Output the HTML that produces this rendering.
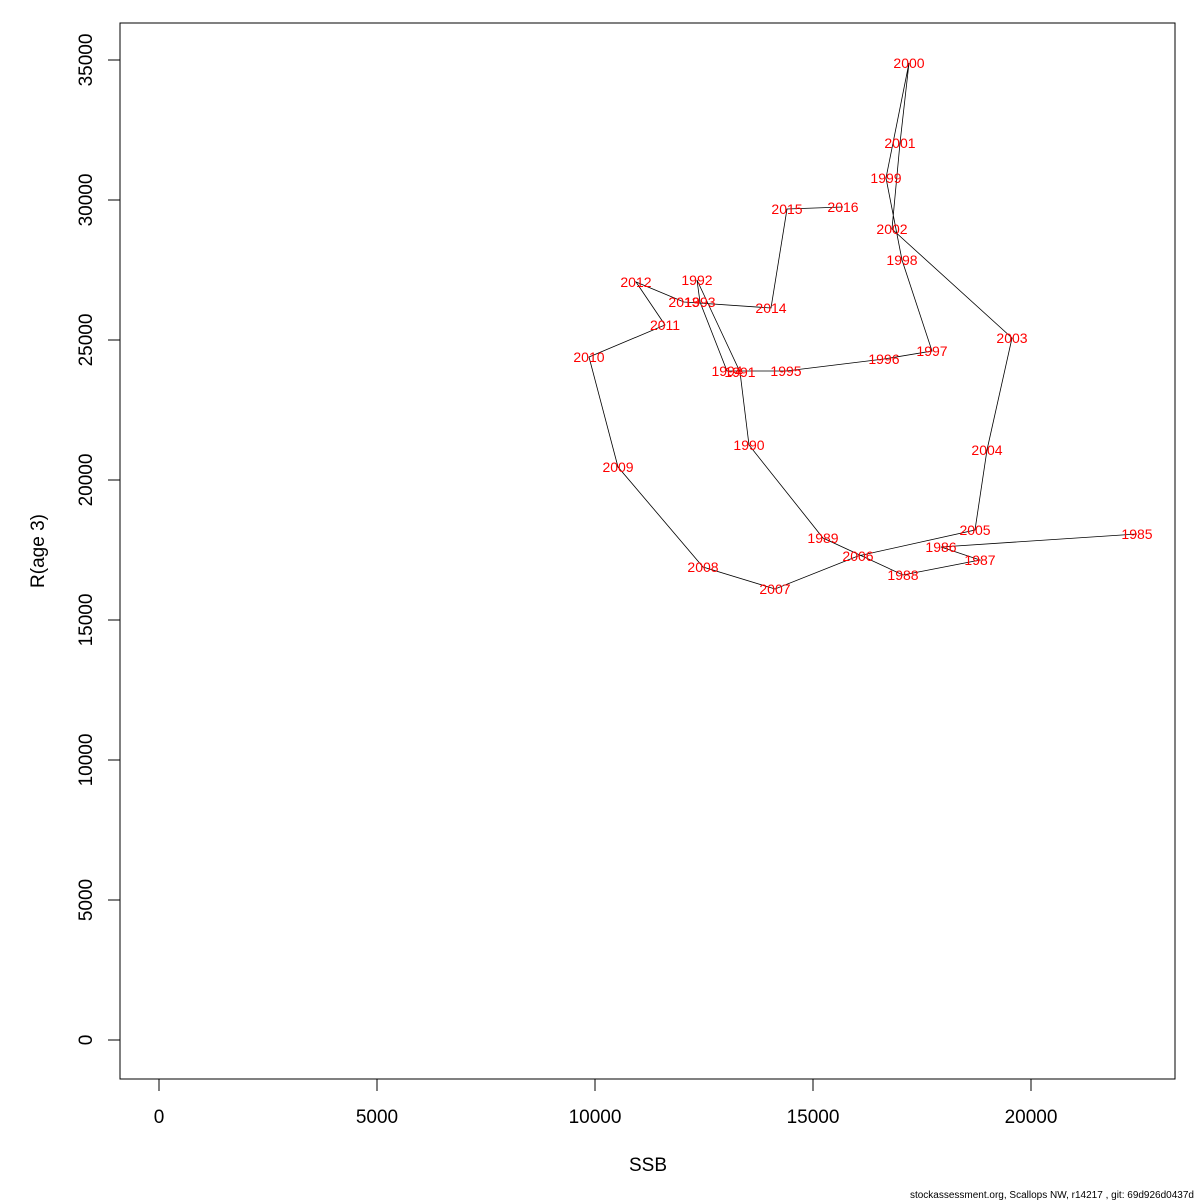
<!DOCTYPE html>
<html><head><meta charset="utf-8"><style>body{margin:0;background:#fff}svg{display:block}</style></head>
<body>
<svg width="1200" height="1200" viewBox="0 0 1200 1200" font-family="'Liberation Sans','DejaVu Sans',sans-serif">
<rect x="120" y="23" width="1055" height="1056" fill="none" stroke="#000" stroke-width="1"/>
<g id="xaxis"></g>
<g id="yaxis"></g>
<path id="trail" fill="none" stroke="#000" stroke-width="0.8"/>
<g id="labels" fill="#ff0000" font-size="14" text-anchor="middle"></g>
<text x="648" y="1171" font-size="19" text-anchor="middle">SSB</text>
<text transform="translate(44,551) rotate(-90)" font-size="19" text-anchor="middle">R(age 3)</text>
<text x="1194" y="1198" font-size="10" text-anchor="end">stockassessment.org, Scallops  NW, r14217 , git: 69d926d0437d</text>
</svg>
<script>
const years=[1985,1986,1987,1988,1989,1990,1991,1992,1993,1994,1995,1996,1997,1998,1999,2000,2001,2002,2003,2004,2005,2006,2007,2008,2009,2010,2011,2012,2013,2014,2015,2016];
const ssb=[22431,17936,18830,17064,15229,13532,13326,12339,12408,13028,14381,16628,17729,17041,16674,17202,16995,16812,19564,18991,18716,16032,14128,12477,10528,9862,11606,10940,12041,14037,14404,15688];
const rec=[18071,17607,17143,16607,17929,21250,23857,27143,26357,23893,23893,24321,24607,27857,30786,34893,32036,28964,25071,21071,18214,17286,16107,16893,20464,24393,25536,27071,26357,26143,29679,29750];
const xTicks=[0,5000,10000,15000,20000];
const yTicks=[0,5000,10000,15000,20000,25000,30000,35000];
const NS='http://www.w3.org/2000/svg';
const X=v=>159+v*872/20000;
const Y=v=>1040-v*980/35000;
const xa=document.getElementById('xaxis');
xa.innerHTML+=`<line x1="${X(0)}" x2="${X(20000)}" y1="1079" y2="1079" stroke="#000"/>`;
xTicks.forEach(t=>{
  const g=document.createElementNS(NS,'g');
  
  
  g.innerHTML=`<line x1="${X(t)}" x2="${X(t)}" y1="1079" y2="1091" stroke="#000"/><text x="${X(t)}" y="1123" font-size="19" text-anchor="middle">${t}</text>`;
  xa.appendChild(g);
});
const ya=document.getElementById('yaxis');
yTicks.forEach(t=>{
  const g=document.createElementNS(NS,'g');
  
  
  g.innerHTML=`<line x1="108" x2="120" y1="${Y(t)}" y2="${Y(t)}" stroke="#000"/><text transform="translate(92,${Y(t)}) rotate(-90)" font-size="19" text-anchor="middle">${t}</text>`;
  ya.appendChild(g);
});
document.getElementById('trail').setAttribute('d',ssb.map((s,i)=>(i?'L':'M')+X(s).toFixed(1)+','+Y(rec[i]).toFixed(1)).join(''));
const lb=document.getElementById('labels');
years.forEach((yr,i)=>{
  const t=document.createElementNS(NS,'text');
  
  
  t.setAttribute('x',X(ssb[i]));
  t.setAttribute('y',Y(rec[i])+5);
  t.textContent=yr;
  lb.appendChild(t);
});
</script>
</body></html>
